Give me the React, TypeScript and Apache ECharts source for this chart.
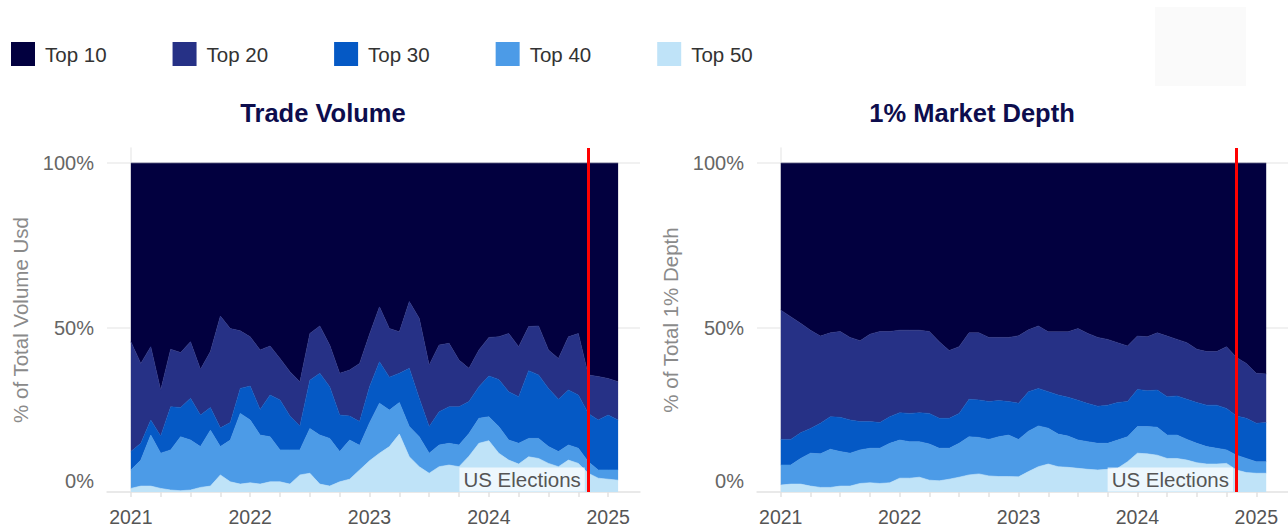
import { useEffect, useRef } from 'react';
import * as echarts from 'echarts';

const FONT = "'Liberation Sans', Arial, Helvetica, sans-serif";

// Monthly observations, Jan 2021 .. Feb 2025
const MONTHS = [
  '2021-01', '2021-02', '2021-03', '2021-04', '2021-05', '2021-06', '2021-07', '2021-08', '2021-09', '2021-10', '2021-11', '2021-12',
  '2022-01', '2022-02', '2022-03', '2022-04', '2022-05', '2022-06', '2022-07', '2022-08', '2022-09', '2022-10', '2022-11', '2022-12',
  '2023-01', '2023-02', '2023-03', '2023-04', '2023-05', '2023-06', '2023-07', '2023-08', '2023-09', '2023-10', '2023-11', '2023-12',
  '2024-01', '2024-02', '2024-03', '2024-04', '2024-05', '2024-06', '2024-07', '2024-08', '2024-09', '2024-10', '2024-11', '2024-12',
  '2025-01', '2025-02',
];

const YEAR_LABELS = ['2021', '2022', '2023', '2024', '2025'];
const YEAR_MONTHS = ['2021-01', '2022-01', '2023-01', '2024-01', '2025-01'];
const QUARTER_MONTHS = MONTHS.filter((m) => ['01', '04', '07', '10'].includes(m.slice(5)));
const Y_TICKS = [0, 50, 100];
const ELECTION_MONTH = '2024-11';
const ELECTION_LABEL = 'US Elections';

const LAYERS = ['Top 10', 'Top 20', 'Top 30', 'Top 40', 'Top 50'];
const LAYER_COLORS = ['#02003f', '#263186', '#0559c5', '#4c9be7', '#bfe3f8'];

// Share of total trade volume (%) by exchange rank bucket
const VOL_TOP10 = [54.3, 60.9, 55.8, 69.0, 56.6, 57.6, 54.3, 62.7, 57.3, 46.5, 50.3, 51.0, 52.8, 56.8, 55.6, 59.4, 63.4, 66.5, 51.8, 49.5, 55.3, 63.9, 62.9, 60.9, 52.0, 43.7, 50.3, 51.3, 42.1, 47.2, 61.4, 55.3, 54.8, 59.9, 62.4, 56.8, 53.0, 52.8, 51.8, 55.8, 49.7, 49.5, 56.8, 59.4, 52.8, 51.8, 64.4, 64.9, 65.5, 66.5];
const VOL_TOP20 = [33.4, 24.3, 22.3, 14.0, 17.5, 16.7, 17.2, 13.9, 17.0, 34.0, 28.6, 17.5, 15.0, 18.1, 14.9, 12.6, 13.5, 13.4, 14.2, 14.4, 12.7, 12.7, 14.0, 17.7, 16.0, 16.7, 14.8, 12.6, 20.3, 24.3, 18.7, 20.3, 19.3, 14.2, 10.1, 11.2, 11.7, 13.0, 17.7, 15.2, 13.4, 14.9, 11.7, 12.4, 16.2, 18.7, 11.7, 13.2, 11.1, 11.6];
const VOL_TOP30 = [5.6, 5.1, 4.6, 5.2, 13.1, 8.9, 12.7, 9.6, 6.9, 5.7, 5.3, 7.6, 10.3, 7.8, 12.7, 15.2, 10.3, 7.3, 14.7, 18.8, 15.7, 11.1, 7.3, 7.2, 11.0, 12.6, 10.0, 8.9, 17.7, 11.7, 8.1, 10.1, 11.1, 11.6, 9.7, 9.6, 12.4, 14.3, 14.7, 14.2, 20.6, 19.3, 17.7, 15.9, 16.7, 16.2, 14.7, 15.2, 16.7, 15.2];
const VOL_TOP40 = [5.6, 7.9, 15.5, 10.7, 12.2, 16.4, 15.2, 12.4, 17.0, 8.6, 12.7, 21.5, 19.1, 14.9, 13.7, 9.7, 10.4, 7.6, 13.6, 14.9, 14.5, 9.2, 11.9, 7.5, 11.5, 15.2, 11.1, 9.6, 9.2, 9.1, 6.1, 6.6, 6.6, 6.6, 6.9, 7.6, 7.3, 8.1, 6.1, 6.3, 5.6, 6.1, 5.1, 4.6, 4.6, 4.6, 3.5, 2.5, 2.8, 3.1];
const VOL_TOP50 = [1.1, 1.8, 1.8, 1.1, 0.6, 0.4, 0.6, 1.4, 1.8, 5.2, 3.1, 2.4, 2.8, 2.4, 3.1, 3.1, 2.4, 5.2, 5.7, 2.4, 1.8, 3.1, 3.9, 6.7, 9.5, 11.8, 13.8, 17.6, 10.7, 7.7, 5.7, 7.7, 8.2, 7.7, 10.9, 14.8, 15.6, 11.8, 9.7, 8.5, 10.7, 10.2, 8.7, 7.7, 9.7, 8.7, 5.7, 4.2, 3.9, 3.6];

// Share of total 1% market depth (%) by exchange rank bucket
const DEPTH_TOP10 = [44.7, 46.7, 48.7, 50.8, 52.6, 51.6, 51.2, 53.0, 54.0, 52.0, 51.2, 51.2, 50.8, 50.8, 50.8, 51.2, 54.3, 57.0, 55.8, 51.6, 51.6, 53.0, 53.0, 53.0, 52.5, 50.7, 49.5, 51.3, 51.3, 51.3, 50.3, 51.8, 53.0, 53.6, 54.6, 55.6, 52.6, 52.8, 51.6, 52.6, 53.6, 54.6, 56.6, 57.3, 57.3, 55.8, 59.1, 60.9, 63.9, 64.1];
const DEPTH_TOP20 = [39.3, 37.3, 33.3, 29.9, 26.5, 25.5, 26.1, 25.1, 24.6, 26.6, 27.7, 25.9, 25.1, 25.3, 25.1, 24.9, 23.3, 20.6, 20.3, 20.2, 20.4, 19.5, 19.2, 19.5, 20.5, 18.8, 19.0, 18.2, 19.2, 19.9, 21.8, 21.3, 20.9, 20.0, 18.2, 16.9, 16.2, 16.4, 17.4, 18.4, 17.2, 17.2, 16.2, 16.3, 16.3, 18.8, 17.8, 16.7, 15.2, 14.8];
const DEPTH_TOP30 = [7.8, 7.8, 7.8, 7.5, 9.3, 9.9, 10.4, 10.1, 8.6, 8.1, 7.8, 8.1, 8.3, 8.6, 8.8, 9.3, 9.1, 9.1, 9.1, 11.4, 11.4, 11.5, 11.0, 10.2, 11.0, 12.0, 11.4, 11.1, 11.9, 11.8, 12.1, 11.6, 11.3, 11.6, 11.4, 10.7, 11.3, 10.9, 11.3, 11.7, 11.9, 12.2, 12.4, 12.6, 13.1, 12.6, 11.9, 12.2, 11.7, 11.9];
const DEPTH_TOP40 = [6.1, 5.8, 7.8, 10.0, 10.2, 11.6, 10.5, 10.0, 10.2, 10.5, 10.7, 12.0, 11.6, 11.1, 10.8, 11.0, 9.9, 9.4, 10.3, 11.6, 11.1, 11.1, 12.1, 12.6, 11.4, 12.3, 12.4, 10.9, 9.9, 9.5, 8.6, 8.4, 8.1, 7.9, 8.6, 7.6, 8.1, 8.3, 8.5, 7.1, 7.1, 6.3, 5.9, 5.3, 4.8, 4.1, 4.5, 4.3, 3.5, 3.5];
const DEPTH_TOP50 = [2.1, 2.4, 2.4, 1.8, 1.4, 1.4, 1.8, 1.8, 2.6, 2.8, 2.6, 2.8, 4.2, 4.2, 4.5, 3.6, 3.4, 3.9, 4.5, 5.2, 5.5, 4.9, 4.7, 4.7, 4.6, 6.2, 7.7, 8.5, 7.7, 7.5, 7.2, 6.9, 6.7, 6.9, 7.2, 9.2, 11.8, 11.6, 11.2, 10.2, 10.2, 9.7, 8.9, 8.5, 8.5, 8.7, 6.7, 5.9, 5.7, 5.7];

const PANELS = [
  {
    title: 'Trade Volume',
    yName: '% of Total Volume Usd',
    stack: 'volume',
    layers: [VOL_TOP10, VOL_TOP20, VOL_TOP30, VOL_TOP40, VOL_TOP50],
  },
  {
    title: '1% Market Depth',
    yName: '% of Total 1% Depth',
    stack: 'depth',
    layers: [DEPTH_TOP10, DEPTH_TOP20, DEPTH_TOP30, DEPTH_TOP40, DEPTH_TOP50],
  },
];

// layout of the two panels (pixels)
const GRID_LEFTS = [107, 757];
const GRID_TOP = 148;
const GRID_W = 533;
const GRID_H = 344;
const TITLE_X = [323, 972];

const monthIndex = (m: string) => MONTHS.indexOf(m);

function buildOption() {
  const grid: any[] = [];
  const xAxis: any[] = [];
  const yAxis: any[] = [];
  const series: any[] = [];
  const graphic: any[] = [
    {
      type: 'rect',
      silent: true,
      shape: { x: 1155, y: 7, width: 91, height: 79 },
      style: { fill: '#fafafa' },
    },
  ];
  const yearIdx = YEAR_MONTHS.map(monthIndex);
  const electionIdx = monthIndex(ELECTION_MONTH);

  PANELS.forEach((panel, p) => {
    grid.push({ left: GRID_LEFTS[p], top: GRID_TOP, width: GRID_W, height: GRID_H });

    xAxis.push({
      type: 'value',
      gridIndex: p,
      min: -2.4,
      max: 51.2,
      axisLine: { show: true, lineStyle: { color: '#e6e6e6', width: 1.5 } },
      axisTick: {
        show: true,
        customValues: QUARTER_MONTHS.map(monthIndex),
        length: 5,
        lineStyle: { color: '#e2e2e2', width: 1.5 },
      },
      axisLabel: {
        customValues: yearIdx,
        formatter: (v: number) => {
          const k = yearIdx.indexOf(Math.round(v));
          return k >= 0 ? YEAR_LABELS[k] : '';
        },
        margin: 15,
        fontSize: 19.5,
        color: '#555555',
        fontFamily: FONT,
      },
      splitLine: { show: false },
    });

    yAxis.push({
      type: 'value',
      gridIndex: p,
      min: 0,
      max: 104.6,
      interval: 50,
      name: panel.yName,
      nameLocation: 'middle',
      nameGap: 76,
      nameTextStyle: { fontSize: 20.5, color: '#8a8a8a', fontFamily: FONT },
      axisLine: { show: true, lineStyle: { color: '#ececec', width: 1.5 } },
      axisTick: { show: false },
      axisLabel: {
        margin: 13,
        fontSize: 20,
        color: '#666666',
        fontFamily: FONT,
        formatter: (v: number) => {
          if (!Y_TICKS.includes(v)) return '';
          return v === 0 ? '{zero|0%}' : `${v}%`;
        },
        rich: {
          zero: { fontSize: 20, color: '#666666', fontFamily: FONT, padding: [0, 0, 22, 0] },
        },
      },
      splitLine: { show: true, showMaxLine: false, lineStyle: { color: '#ececec', width: 1.5 } },
    });

    // stack from the bottom: Top 50 first, Top 10 last.
    // Each row is [share, monthIndex]; the share column comes first so it is the stacked one.
    for (let k = LAYERS.length - 1; k >= 0; k--) {
      const s: any = {
        type: 'line',
        name: LAYERS[k],
        xAxisIndex: p,
        yAxisIndex: p,
        stack: panel.stack,
        encode: { x: 1, y: 0 },
        data: panel.layers[k].map((v, i) => [v, i]),
        symbol: 'none',
        showSymbol: false,
        silent: true,
        color: LAYER_COLORS[k],
        itemStyle: { color: LAYER_COLORS[k] },
        lineStyle: { width: 0.6, color: LAYER_COLORS[k] },
        areaStyle: { color: LAYER_COLORS[k], opacity: 1 },
      };
      if (k === 0) {
        s.markLine = {
          silent: true,
          symbol: ['none', 'none'],
          label: { show: false },
          lineStyle: { color: '#ff0000', width: 3, type: 'solid', opacity: 1 },
          data: [{ xAxis: electionIdx }],
        };
        s.markPoint = {
          silent: true,
          symbol: 'rect',
          symbolSize: 1,
          itemStyle: { color: 'rgba(0,0,0,0)' },
          data: [
            {
              coord: [electionIdx, 0],
              label: {
                show: true,
                formatter: ELECTION_LABEL,
                position: 'left',
                distance: 3,
                offset: [0, -12.5],
                fontSize: 20.5,
                color: '#555555',
                fontFamily: FONT,
                backgroundColor: 'rgba(255,255,255,0.72)',
                padding: [2, 4, 1, 4],
              },
            },
          ],
        };
      }
      series.push(s);
    }

    graphic.push({
      type: 'text',
      silent: true,
      x: TITLE_X[p],
      y: 113,
      style: {
        text: panel.title,
        font: `bold 25.5px ${FONT}`,
        fill: '#0d0d4d',
        align: 'center',
        verticalAlign: 'middle',
        textAlign: 'center',
        textVerticalAlign: 'middle',
      },
    });
  });

  return {
    animation: false,
    backgroundColor: '#ffffff',
    legend: {
      data: LAYERS,
      left: 6,
      top: 37,
      icon: 'rect',
      itemWidth: 24,
      itemHeight: 24,
      itemGap: 66,
      selectedMode: false,
      textStyle: { fontSize: 20.5, color: '#333333', fontFamily: FONT, padding: [0, 0, 0, 5] },
    },
    grid,
    xAxis,
    yAxis,
    series,
    graphic,
  };
}

export default function App() {
  const ref = useRef<HTMLDivElement>(null);

  useEffect(() => {
    if (!ref.current) return;
    const chart = echarts.init(ref.current, undefined, { renderer: 'svg' });
    chart.setOption(buildOption() as any);
    return () => chart.dispose();
  }, []);

  return (
    <div
      ref={ref}
      style={{ position: 'absolute', left: 0, top: 0, width: 1288, height: 531, background: '#ffffff' }}
    />
  );
}
